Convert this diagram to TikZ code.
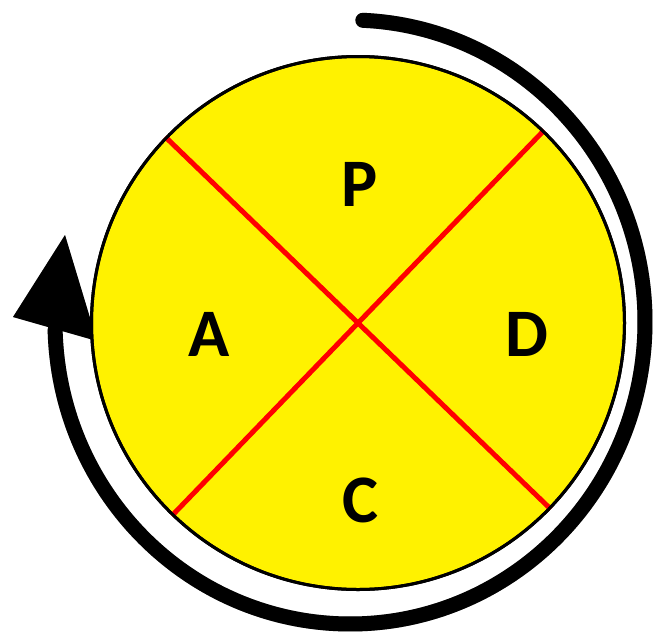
\documentclass[tikz,border=0pt]{standalone}
\usepackage{fontspec}
\setmainfont{Carlito}
\begin{document}
\begin{tikzpicture}[x=1pt,y=1pt]
\tikzset{
  lbl/.style={font=\fontsize{68}{68}\selectfont\bfseries, text=black, inner sep=0pt},
  cyclearc/.style={line width=15pt, line cap=round},
  divider/.style={draw=red, line width=5pt},
  shade/.style={black!30}
}
\useasboundingbox (0,0) rectangle (669,-643);
\coordinate (ac) at (350,-322);
\coordinate (tip) at (65,-235);
\coordinate (bl) at (13,-317);
\coordinate (br) at (97,-341);
% soft shadow
\begin{scope}[shift={(-6,6)}, shade]
  \draw[cyclearc] (ac) ++(87.5:295 and 302) arc[start angle=87.5, end angle=-178.5, x radius=295, y radius=302];
  \fill (tip) -- (bl) -- (br) -- cycle;
\end{scope}
% cycle arrow
\draw[cyclearc] (ac) ++(87.5:295 and 302) arc[start angle=87.5, end angle=-178.5, x radius=295, y radius=302];
\fill (tip) -- (bl) -- (br) -- cycle;
% circle
\node[circle, draw=black, line width=3pt, fill=yellow, minimum size=533pt, inner sep=0pt] (pdca) at (358,-323) {};
\draw[divider] (pdca.136) -- (pdca.316);
\draw[divider] (pdca.46) -- (pdca.226);
\draw[line width=3pt] (pdca) circle[radius=266.5];
\node[lbl] (P) at (360,-184) {P};
\node[lbl] (A) at (209,-334) {A};
\node[lbl] (D) at (527,-334) {D};
\node[lbl] (C) at (360,-500) {C};
\end{tikzpicture}
\end{document}
